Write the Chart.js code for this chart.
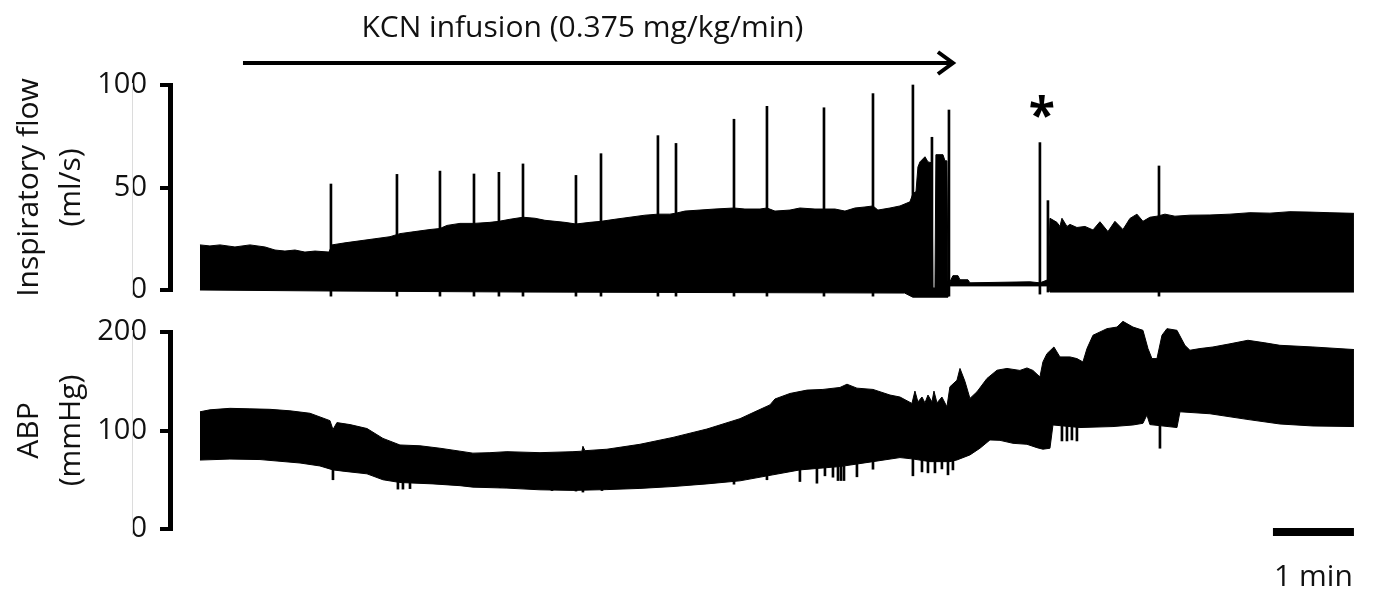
<!DOCTYPE html>
<html>
<head>
<meta charset="utf-8">
<script src="https://cdn.jsdelivr.net/npm/chart.js@4.4.1/dist/chart.umd.min.js"></script>
<style>
  html, body { margin: 0; padding: 0; background: #fff; }
  body { width: 1373px; height: 593px; position: relative; overflow: hidden; }
  canvas { position: absolute; left: 0; }
  #flowChart { top: 0; }
  #abpChart { top: 300px; }
</style>
</head>
<body>
<canvas id="flowChart" width="1373" height="322" style="width:1373px;height:322px"></canvas>
<canvas id="abpChart" width="1373" height="293" style="width:1373px;height:293px"></canvas>
<script>
// Time axis in minutes from the start of the recording.

// Inspiratory flow (ml/s): upper and lower envelope of the breath-by-breath trace
const flowTime = [0.000, 0.123, 0.247, 0.432, 0.617, 0.802, 0.926, 1.049, 1.173, 1.296, 1.420, 1.593,
  1.630, 1.790, 1.975, 2.160, 2.346, 2.469, 2.654, 2.840, 2.963, 3.049, 3.210, 3.383, 3.580, 3.691,
  3.827, 3.988, 4.136, 4.259, 4.383, 4.506, 4.642, 4.815, 4.951, 5.123, 5.309, 5.494, 5.654, 5.802,
  5.877, 5.988, 6.173, 6.358, 6.593, 6.728, 6.914, 7.000, 7.099, 7.284, 7.407, 7.593, 7.704, 7.840,
  7.963, 8.086, 8.210, 8.309, 8.370, 8.519, 8.642, 8.765, 8.802, 8.840, 8.864, 8.889, 8.951, 8.988,
  9.037, 9.049, 9.074, 9.086, 9.173, 9.198, 9.222, 9.235, 9.259, 9.296, 9.358, 9.383, 9.481, 9.506,
  10.247, 10.370, 10.469, 10.494, 10.580, 10.617, 10.642, 10.704, 10.741, 10.827, 10.926, 11.025,
  11.111, 11.210, 11.296, 11.395, 11.481, 11.568, 11.642, 11.728, 11.815, 11.914, 12.037, 12.222,
  12.469, 12.716, 12.963, 13.210, 13.457, 13.704, 13.951, 14.247];
const flowUpper = [22, 21.5, 22, 21, 22, 21, 19.5, 19, 19.5, 18.5, 19, 18.5,
  22, 23, 24, 25, 26, 27.5, 28.5, 29.5, 30, 31.5, 32.5, 32.5, 33, 33.5,
  34.5, 35.5, 35, 34, 33.5, 33, 32.2, 33, 33.5, 34.5, 35.5, 36.5, 37, 37,
  37.5, 38.5, 39, 39.5, 40, 39.5, 39.5, 40, 38.5, 39, 40, 39.5, 39.5, 39.5,
  38.5, 40, 40.5, 41, 39, 40, 41, 43, 47, 48, 60, 62.5, 65, 62.5,
  62, 1, 1, 66, 66, 63, 63, 4, 4, 7, 7, 5, 5, 3.5,
  4, 3.5, 5, 35, 33, 31, 35, 31, 32, 30.5, 31, 29.3,
  33.3, 28.5, 33.5, 29.5, 34.9, 37, 33.5, 35.5, 36, 37, 36, 36.5,
  36.6, 37, 37.7, 37.5, 38.2, 38, 37.7, 37.4];
const flowLowerTime = [0, 1.630, 4.000, 8.700, 8.800, 9.235, 9.247, 10.480, 10.494, 14.247];
const flowLower = [0, -0.5, -1, -1.5, -3.5, -3.5, 2, 2, -1, -1];

// Sighs / large single breaths on the flow trace
const flowSpikeTime = [1.617, 2.432, 2.963, 3.383, 3.691, 3.988, 4.642, 4.951, 5.654, 5.877,
  6.593, 7.000, 7.704, 8.309, 8.802, 9.037, 9.247, 10.370, 10.469, 11.840];
const flowSpikePeak = [51.7, 56.4, 58, 56.6, 57.4, 61.5, 55.9, 66.5, 75.3, 71.5,
  83.3, 89.6, 88.9, 95.8, 100, 74.5, 87.8, 71.9, 43.6, 60.5];
const flowSpikeBase = [-3, -3, -3, -3, -3, -3, -3, -3, -3, -3,
  -3, -3, -3, -3, -3, -3, -3, -2, -1, -3];

// Arterial blood pressure (mmHg): systolic (upper) and diastolic (lower) envelope
const abpTime = [0.000, 0.123, 0.370, 0.617, 0.864, 1.111, 1.358, 1.605, 1.642, 1.691, 1.852, 2.062,
  2.259, 2.469, 2.716, 2.963, 3.210, 3.370, 3.580, 3.790, 4.198, 4.605, 4.716, 4.728, 4.753, 5.025,
  5.432, 5.840, 6.259, 6.667, 6.877, 7.037, 7.099, 7.284, 7.494, 7.691, 7.901, 7.988, 8.111, 8.309,
  8.519, 8.642, 8.790, 8.827, 8.864, 8.914, 8.951, 8.988, 9.037, 9.062, 9.099, 9.160, 9.222, 9.259,
  9.346, 9.383, 9.444, 9.506, 9.593, 9.716, 9.840, 9.963, 10.123, 10.210, 10.284, 10.370, 10.407,
  10.457, 10.543, 10.617, 10.741, 10.827, 10.901, 10.951, 11.025, 11.198, 11.321, 11.395, 11.519,
  11.642, 11.704, 11.753, 11.815, 11.877, 11.938, 12.062, 12.160, 12.222, 12.346, 12.506, 12.716,
  12.938, 13.148, 13.333, 13.741, 14.247];
const abpUpper = [119, 121, 122.5, 122, 121.5, 120, 117.5, 110, 101, 108, 106, 102,
  92, 85.3, 84.5, 82, 79, 77, 77.5, 78.5, 77.5, 78.5, 79, 84, 79.5, 81,
  86, 93, 101.5, 112, 120, 126, 132, 137.6, 141, 141.7, 143.7, 147, 143, 141.7,
  136, 134, 127.5, 140, 129, 134, 128, 136, 129, 140, 128, 134, 124, 144.4,
  151, 163, 150, 132.6, 139.3, 152.8, 161.2, 163, 161, 163.5, 161, 154.4, 169.6,
  178, 184.8, 174.7, 174.7, 173, 169.6, 183.2, 196.7, 203.4, 205, 210.8, 205,
  201.7, 183.2, 173, 173, 196.7, 203.4, 201.7, 186.5, 181.5, 183.2, 184.8, 188,
  191.6, 189, 186.5, 184.8, 182.2];
const abpLowerTime = [0.000, 0.370, 0.741, 1.235, 1.481, 1.642, 1.790, 2.062, 2.259, 2.469, 2.877,
  3.210, 3.370, 3.790, 4.198, 4.605, 5.025, 5.432, 5.840, 6.259, 6.667, 7.074, 7.407, 7.901, 8.309,
  8.642, 8.790, 9.012, 9.259, 9.346, 9.506, 9.630, 9.753, 9.877, 10.037, 10.210, 10.333, 10.407,
  10.494, 10.531, 10.864, 11.272, 11.519, 11.642, 11.691, 11.728, 12.062, 12.099, 12.469, 12.926,
  13.333, 13.741, 14.247];
const abpLower = [70, 71, 70.5, 67, 64, 60, 58.5, 56, 50, 47.2, 45.8,
  44, 42.5, 41.5, 39.8, 39.2, 40, 41.2, 43.1, 45.8, 48.9, 55, 60, 63.4, 68.4,
  72.5, 71.2, 68.4, 68.4, 70.1, 75.2, 82, 90.4, 90, 87, 86, 82.6, 81,
  82, 105.6, 103, 104, 105.6, 107.3, 115.7, 106, 103, 119, 117, 111.3,
  106.6, 104.6, 104];

// Brief diastolic dips below the pressure envelope
const abpDipTime = [1.642, 2.444, 2.506, 2.593, 3.704, 4.049, 4.346, 4.642, 4.728, 4.963,
  6.593, 7.000, 7.407, 7.617, 7.716, 7.815, 7.877, 7.914, 7.951, 8.111, 8.309,
  8.802, 8.914, 8.988, 9.074, 9.160, 9.235, 9.296, 10.642, 10.704, 10.765, 10.827, 11.852];
const abpDipLow = [50, 40.5, 40.5, 41, 42, 42, 39, 38.5, 37.5, 39,
  45.5, 50, 48.2, 46.5, 54, 52.6, 49.2, 49.2, 49.2, 53, 60.7,
  54, 58, 57, 57, 61, 55, 60, 89.4, 89.4, 90.4, 89.4, 82];
const abpDipTop = [62, 50, 49, 48, 45, 45, 42, 42, 42, 42,
  50, 56, 62, 63, 64, 64, 64, 64, 64, 66, 69,
  72, 70, 70, 70, 70, 70, 70, 105, 105, 105, 105, 105];

// Axis ticks
const flowTicks = [0, 50, 100];
const abpTicks = [0, 100, 200];

// Annotations
const infusionLabel = 'KCN infusion (0.375 mg/kg/min)';
const infusionStart = 0.531;   // min
const infusionEnd = 9.321;     // min
const infusionLabelCenter = 4.722;
const asteriskTime = 10.395;
const scaleBarStart = 13.247;
const scaleBarEnd = 14.247;
const scaleBarLabel = '1 min';

Chart.defaults.font.family = "'Open Sans', 'DejaVu Sans', sans-serif";
Chart.defaults.color = '#111';

const xRange = { min: -0.37, max: 14.26 };

function toPoints(xs, ys) { return xs.map((t, i) => ({ x: t, y: ys[i] })); }
function toBars(xs, lo, hi) { return xs.map((t, i) => ({ x: t, y: [lo[i], hi[i]] })); }

function yAxis(max, ticks, title) {
  return {
    type: 'linear', min: 0, max: max,
    afterBuildTicks: s => { s.ticks = ticks.map(v => ({ value: v })); },
    afterFit: s => { s.width = 170; },
    border: { display: true, color: '#000', width: 5 },
    grid: { display: true, drawOnChartArea: false, drawTicks: true, tickLength: 10,
            tickWidth: 4, tickColor: '#000', color: '#000', lineWidth: 4 },
    ticks: { color: '#111', font: { size: 29 }, padding: 13 },
    title: { display: true, text: title, color: '#111',
             font: { size: 30, lineHeight: 1.4 }, padding: { top: 8, bottom: 0 } }
  };
}

function bandDatasets(tU, vU, tL, vL) {
  return [
    { type: 'line', data: toPoints(tU, vU), borderColor: '#000', backgroundColor: '#000',
      borderWidth: 1, pointRadius: 0, tension: 0, fill: '+1', clip: false, order: 2 },
    { type: 'line', data: toPoints(tL, vL), borderColor: '#000', backgroundColor: '#000',
      borderWidth: 1, pointRadius: 0, tension: 0, fill: false, clip: false, order: 2 }
  ];
}

// The traces run slightly past the axis limits (below 0 flow, above 200 mmHg);
// widen the clip region while the datasets and their fills are painted.
const traceOverflow = {
  id: 'traceOverflow',
  beforeDatasetsDraw(chart) {
    const a = chart.chartArea;
    chart.$savedArea = a;
    chart.chartArea = { left: a.left, right: a.right, top: a.top - 40, bottom: a.bottom + 40,
                        width: a.width, height: a.height + 80 };
  },
  afterDatasetsDraw(chart) {
    if (chart.$savedArea) chart.chartArea = chart.$savedArea;
  }
};

function faintFrame(chart, topVal, botVal) {
  const ctx = chart.ctx, ys = chart.scales.y;
  ctx.save();
  ctx.strokeStyle = '#dcdcdc';
  ctx.lineWidth = 1;
  ctx.beginPath();
  ctx.moveTo(132.5, ys.getPixelForValue(topVal) - 2);
  ctx.lineTo(132.5, ys.getPixelForValue(botVal) + 6);
  ctx.stroke();
  ctx.restore();
}

const flowAnnotations = {
  id: 'flowAnnotations',
  afterDraw(chart) {
    const ctx = chart.ctx, xs = chart.scales.x;
    faintFrame(chart, 100, 0);
    ctx.save();
    // infusion label
    ctx.fillStyle = '#111';
    ctx.font = "30px 'Open Sans'";
    ctx.textAlign = 'center';
    ctx.textBaseline = 'alphabetic';
    ctx.fillText(infusionLabel, xs.getPixelForValue(infusionLabelCenter), 37);
    // infusion arrow
    const x0 = xs.getPixelForValue(infusionStart), x1 = xs.getPixelForValue(infusionEnd);
    const ay = 63;
    ctx.strokeStyle = '#000';
    ctx.lineWidth = 4;
    ctx.lineCap = 'butt';
    ctx.beginPath();
    ctx.moveTo(x0, ay);
    ctx.lineTo(x1 - 2, ay);
    ctx.stroke();
    ctx.lineJoin = 'miter';
    ctx.beginPath();
    ctx.moveTo(x1 - 17, ay - 11);
    ctx.lineTo(x1 - 2, ay);
    ctx.lineTo(x1 - 17, ay + 11);
    ctx.stroke();
    // asterisk over the post-apnoea gasp
    ctx.font = "bold 48px 'Open Sans'";
    const m = ctx.measureText('*');
    const cy = 106;
    ctx.fillStyle = '#000';
    ctx.fillText('*', xs.getPixelForValue(asteriskTime),
      cy + (m.actualBoundingBoxAscent - m.actualBoundingBoxDescent) / 2);
    ctx.restore();
  }
};

const abpAnnotations = {
  id: 'abpAnnotations',
  afterDraw(chart) {
    const ctx = chart.ctx, xs = chart.scales.x;
    faintFrame(chart, 200, 0);
    ctx.save();
    const xa = xs.getPixelForValue(scaleBarStart), xb = xs.getPixelForValue(scaleBarEnd);
    ctx.fillStyle = '#000';
    ctx.fillRect(xa, 228, xb - xa, 8);
    ctx.fillStyle = '#111';
    ctx.font = "30px 'Open Sans'";
    ctx.textAlign = 'center';
    ctx.textBaseline = 'alphabetic';
    ctx.fillText(scaleBarLabel, (xa + xb) / 2, 286);
    ctx.restore();
  }
};

const commonOptions = {
  responsive: false,
  animation: false,
  events: [],
  plugins: { legend: { display: false }, tooltip: { enabled: false } }
};

new Chart(document.getElementById('flowChart'), {
  type: 'line',
  data: {
    datasets: [
      ...bandDatasets(flowTime, flowUpper, flowLowerTime, flowLower),
      { type: 'bar', data: toBars(flowSpikeTime, flowSpikeBase, flowSpikePeak),
        backgroundColor: '#000', borderWidth: 0, barThickness: 2, clip: false, order: 1 }
    ]
  },
  options: Object.assign({}, commonOptions, {
    layout: { padding: { left: 0, right: 18, top: 85, bottom: 32 } },
    scales: {
      x: { type: 'linear', display: false, min: xRange.min, max: xRange.max, offset: false },
      y: yAxis(100, flowTicks, ['Inspiratory flow', '(ml/s)'])
    }
  }),
  plugins: [traceOverflow, flowAnnotations]
});

new Chart(document.getElementById('abpChart'), {
  type: 'line',
  data: {
    datasets: [
      ...bandDatasets(abpTime, abpUpper, abpLowerTime, abpLower),
      { type: 'bar', data: toBars(abpDipTime, abpDipLow, abpDipTop),
        backgroundColor: '#000', borderWidth: 0, barThickness: 2, clip: false, order: 1 }
    ]
  },
  options: Object.assign({}, commonOptions, {
    layout: { padding: { left: 0, right: 18, top: 32, bottom: 64 } },
    scales: {
      x: { type: 'linear', display: false, min: xRange.min, max: xRange.max, offset: false },
      y: yAxis(200, abpTicks, ['ABP', '(mmHg)'])
    }
  }),
  plugins: [traceOverflow, abpAnnotations]
});
</script>
</body>
</html>
